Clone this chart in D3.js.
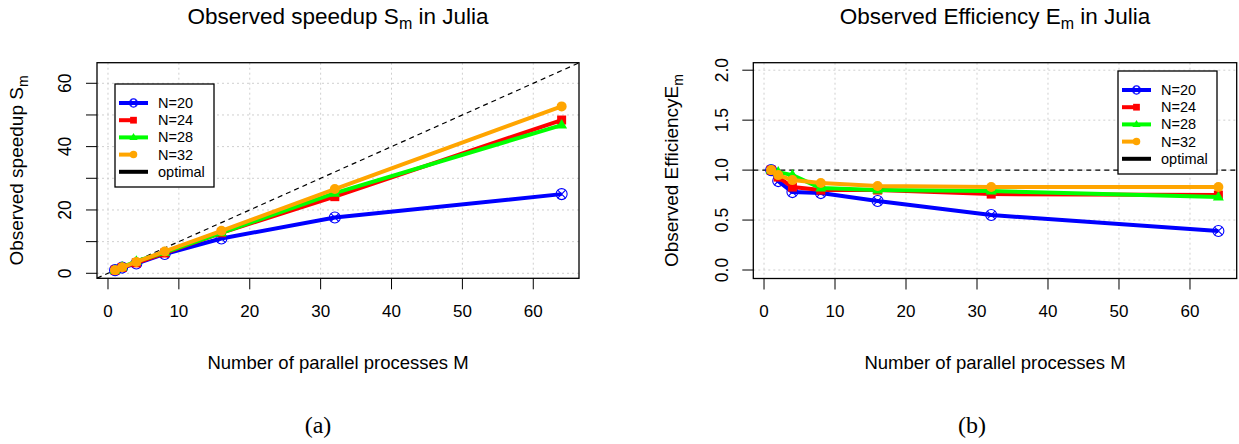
<!DOCTYPE html>
<html>
<head>
<meta charset="utf-8">
<title>Observed speedup and efficiency in Julia</title>
<script src="https://d3js.org/d3.v7.min.js"></script>
<style>
  body { margin: 0; background: #fff; }
  svg { display: block; font-family: "Liberation Sans", Arial, sans-serif; }
  .grid line { stroke: #cfcfcf; stroke-width: 1; stroke-dasharray: 2,3; }
  .tick-mark { stroke: #000; stroke-width: 1; }
</style>
</head>
<body>
<script>
// number of parallel processes
var M = [1, 2, 4, 8, 16, 32, 64];
var seriesNames = ["N=20", "N=24", "N=28", "N=32"];
var seriesColors = ["#0000ff", "#ff0000", "#00ff00", "#ffa500"];
var seriesShapes = ["circlex", "square", "triangle", "circle"];

// observed speedup S_m
var speedupN20 = [1, 1.8, 3.1, 6.1, 11.0, 17.6, 25.0];
var speedupN24 = [1, 1.85, 3.3, 6.4, 12.8, 24.2, 48.4];
var speedupN28 = [1, 1.95, 3.8, 6.6, 12.8, 25.3, 46.8];
var speedupN32 = [1, 1.9, 3.6, 6.9, 13.4, 26.6, 52.7];

// observed efficiency E_m
var effN20 = [1, 0.89, 0.78, 0.77, 0.69, 0.55, 0.39];
var effN24 = [1, 0.93, 0.83, 0.80, 0.80, 0.76, 0.75];
var effN28 = [1, 0.98, 0.95, 0.82, 0.80, 0.79, 0.73];
var effN32 = [1, 0.95, 0.90, 0.87, 0.84, 0.83, 0.83];

var xTicks = [0, 10, 20, 30, 40, 50, 60];
var speedTicks = [0, 10, 20, 30, 40, 50, 60];
var speedTickLabels = ["0", "", "20", "", "40", "", "60"];
var effTicks = [0, 0.5, 1.0, 1.5, 2.0];
var effTickLabels = ["0.0", "0.5", "1.0", "1.5", "2.0"];

var w = 1239, h = 444;

var svg = d3.select("body").append("svg")
    .attr("width", w)
    .attr("height", h);

function drawMarker(g, shape, color, cx, cy, k) {
  k = k || 1;
  if (shape === "circlex") {
    g.append("circle").attr("cx", cx).attr("cy", cy).attr("r", 5.5 * k)
      .attr("fill", "none").attr("stroke", color).attr("stroke-width", 1.1);
    var d = 3.9 * k;
    g.append("path")
      .attr("d", "M" + (cx - d) + "," + (cy - d) + "L" + (cx + d) + "," + (cy + d) +
                 "M" + (cx - d) + "," + (cy + d) + "L" + (cx + d) + "," + (cy - d))
      .attr("stroke", color).attr("stroke-width", 1.1);
  } else if (shape === "square") {
    g.append("rect").attr("x", cx - 4.5 * k).attr("y", cy - 4.5 * k)
      .attr("width", 9 * k).attr("height", 9 * k).attr("fill", color);
  } else if (shape === "triangle") {
    g.append("path")
      .attr("d", "M" + cx + "," + (cy - 6 * k) + "L" + (cx + 5.5 * k) + "," + (cy + 3.5 * k) +
                 "L" + (cx - 5.5 * k) + "," + (cy + 3.5 * k) + "Z")
      .attr("fill", color);
  } else {
    g.append("circle").attr("cx", cx).attr("cy", cy).attr("r", 5 * k).attr("fill", color);
  }
}

function drawPanel(opt) {
  var x = d3.scaleLinear().domain(opt.xDomain).range([opt.left, opt.right]);
  var y = d3.scaleLinear().domain(opt.yDomain).range([opt.bottom, opt.top]);

  var g = svg.append("g");

  // clip to the plot region
  g.append("clipPath").attr("id", opt.id + "-clip")
    .append("rect")
    .attr("x", opt.left).attr("y", opt.top)
    .attr("width", opt.right - opt.left).attr("height", opt.bottom - opt.top);

  // dotted grid
  var grid = g.append("g").attr("class", "grid");
  grid.selectAll("line.v").data(xTicks).enter().append("line")
    .attr("x1", function(d) { return x(d); }).attr("x2", function(d) { return x(d); })
    .attr("y1", opt.top).attr("y2", opt.bottom);
  grid.selectAll("line.h").data(opt.yTicks).enter().append("line")
    .attr("y1", function(d) { return y(d); }).attr("y2", function(d) { return y(d); })
    .attr("x1", opt.left).attr("x2", opt.right);

  var plot = g.append("g").attr("clip-path", "url(#" + opt.id + "-clip)");

  // optimal line
  plot.append("line")
    .attr("x1", x(opt.xDomain[0])).attr("x2", x(opt.xDomain[1]))
    .attr("y1", y(opt.optimal(opt.xDomain[0]))).attr("y2", y(opt.optimal(opt.xDomain[1])))
    .attr("stroke", "#000").attr("stroke-width", 1.2).attr("stroke-dasharray", "5,4");

  var line = d3.line()
    .x(function(d, i) { return x(M[i]); })
    .y(function(d) { return y(d); });

  opt.series.forEach(function(s, k) {
    plot.append("path")
      .datum(s)
      .attr("d", line)
      .attr("fill", "none")
      .attr("stroke", seriesColors[k])
      .attr("stroke-width", 4)
      .attr("stroke-linejoin", "round");
    s.forEach(function(v, i) {
      drawMarker(plot, seriesShapes[k], seriesColors[k], x(M[i]), y(v));
    });
  });

  // box
  g.append("rect")
    .attr("x", opt.left).attr("y", opt.top)
    .attr("width", opt.right - opt.left).attr("height", opt.bottom - opt.top)
    .attr("fill", "none").attr("stroke", "#000").attr("stroke-width", 1.3);

  // x axis
  var xa = g.append("g");
  xa.selectAll("line").data(xTicks).enter().append("line")
    .attr("class", "tick-mark")
    .attr("x1", function(d) { return x(d); }).attr("x2", function(d) { return x(d); })
    .attr("y1", opt.bottom).attr("y2", opt.bottom + 11);
  xa.selectAll("text").data(xTicks).enter().append("text")
    .attr("x", function(d) { return x(d); })
    .attr("y", 317)
    .attr("text-anchor", "middle")
    .attr("font-size", 17)
    .text(function(d) { return d; });

  // y axis
  var ya = g.append("g");
  ya.selectAll("line").data(opt.yTicks).enter().append("line")
    .attr("class", "tick-mark")
    .attr("y1", function(d) { return y(d); }).attr("y2", function(d) { return y(d); })
    .attr("x1", opt.left).attr("x2", opt.left - 11);
  ya.selectAll("text").data(opt.yTicks).enter().append("text")
    .attr("transform", function(d) { return "translate(" + opt.yLabelX + "," + y(d) + ") rotate(-90)"; })
    .attr("text-anchor", "middle")
    .attr("font-size", 17.5)
    .text(function(d, i) { return opt.yTickLabels[i]; });

  // titles
  var cx = (opt.left + opt.right) / 2;
  var t = g.append("text")
    .attr("x", cx).attr("y", 24)
    .attr("text-anchor", "middle")
    .attr("font-size", 22.5)
    .text(opt.titleA);
  t.append("tspan").attr("font-size", 16).attr("dy", 5).text(opt.sub);
  t.append("tspan").attr("dy", -5).text(opt.titleB);

  var yt = g.append("text")
    .attr("transform", "translate(" + opt.yTitleX + "," + (opt.top + opt.bottom) / 2 + ") rotate(-90)")
    .attr("text-anchor", "middle")
    .attr("font-size", 19)
    .text(opt.yTitle);
  yt.append("tspan").attr("font-size", 14).attr("dy", 5).text(opt.sub);

  g.append("text")
    .attr("x", cx).attr("y", 369)
    .attr("text-anchor", "middle")
    .attr("font-size", 18.5)
    .text("Number of parallel processes M");

  g.append("text")
    .attr("x", opt.capX).attr("y", 433)
    .attr("text-anchor", "middle")
    .attr("font-family", "'Liberation Serif', 'DejaVu Serif', serif")
    .attr("font-size", 24)
    .text(opt.caption);

  // legend
  var lg = g.append("g");
  lg.append("rect")
    .attr("x", opt.legend.x).attr("y", opt.legend.y)
    .attr("width", 99).attr("height", 103)
    .attr("fill", "#fff").attr("stroke", "#000").attr("stroke-width", 1.3);
  var labels = seriesNames.concat(["optimal"]);
  labels.forEach(function(lab, i) {
    var ly = opt.legend.y + 19 + i * 17.2;
    var x0 = opt.legend.x + 4, x1 = opt.legend.x + 33, xm = (x0 + x1) / 2;
    var color = i < 4 ? seriesColors[i] : "#000";
    var half = (i === 1 || i === 3);
    lg.append("line")
      .attr("x1", x0).attr("x2", half ? xm : x1)
      .attr("y1", ly).attr("y2", ly)
      .attr("stroke", color).attr("stroke-width", 4);
    if (i < 4) drawMarker(lg, seriesShapes[i], color, xm, ly, 0.75);
    lg.append("text")
      .attr("x", opt.legend.x + 43).attr("y", ly + 5)
      .attr("font-size", 14.5)
      .text(lab);
  });
}

drawPanel({
  id: "speed",
  left: 97, right: 579, top: 62.7, bottom: 278.3,
  xDomain: [-1.55, 66.45], yDomain: [-1.58, 66.5],
  yTicks: speedTicks, yTickLabels: speedTickLabels,
  series: [speedupN20, speedupN24, speedupN28, speedupN32],
  optimal: function(m) { return m; },
  titleA: "Observed speedup S", sub: "m", titleB: " in Julia",
  yTitle: "Observed speedup S",
  yLabelX: 71, yTitleX: 23,
  capX: 318, caption: "(a)",
  legend: { x: 115, y: 84 }
});

drawPanel({
  id: "eff",
  left: 753.3, right: 1236.7, top: 62.7, bottom: 278.5,
  xDomain: [-1.51, 66.58], yDomain: [-0.085, 2.075],
  yTicks: effTicks, yTickLabels: effTickLabels,
  series: [effN20, effN24, effN28, effN32],
  optimal: function() { return 1; },
  titleA: "Observed Efficiency E", sub: "m", titleB: " in Julia",
  yTitle: "Observed EfficiencyE",
  yLabelX: 728, yTitleX: 678,
  capX: 972, caption: "(b)",
  legend: { x: 1118, y: 71 }
});
</script>
</body>
</html>
